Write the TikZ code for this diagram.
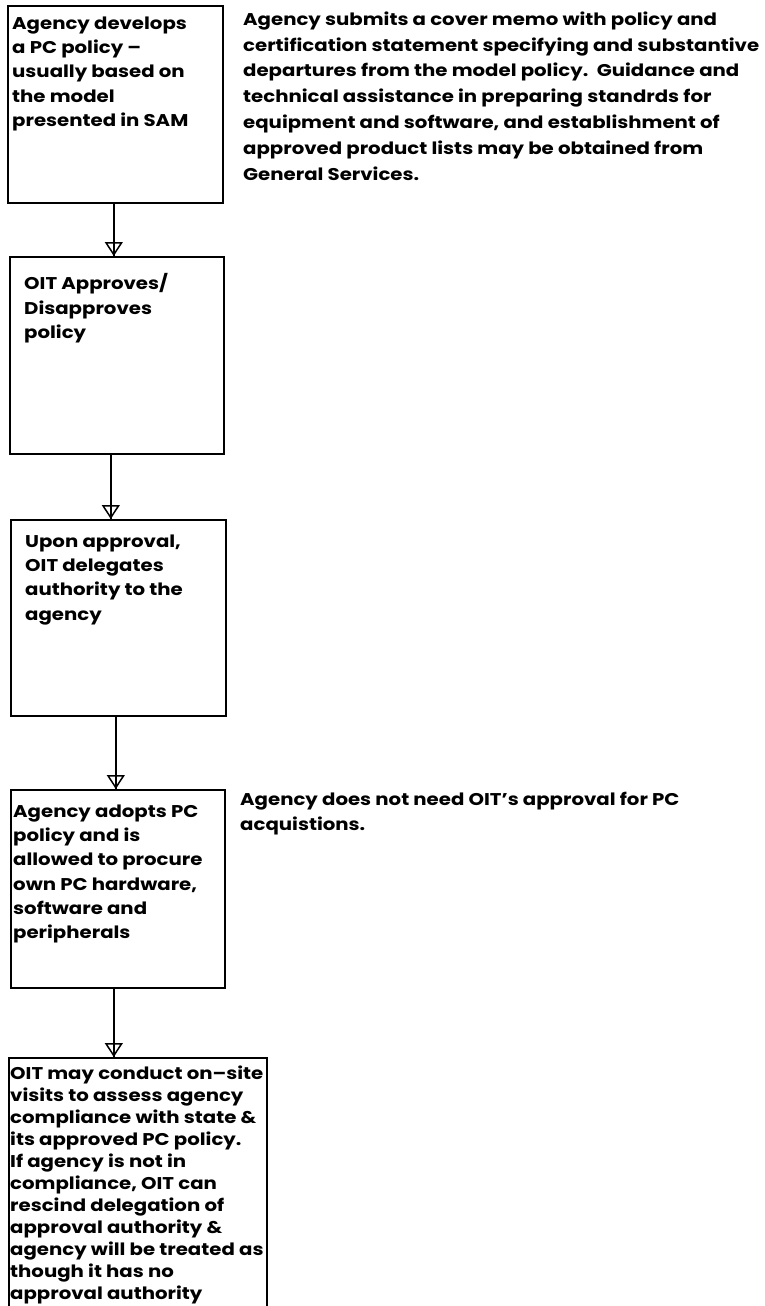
\documentclass[tikz,border=0pt]{standalone}
\usepackage{fontspec}
\setmainfont{Poppins}[FakeStretch=1.16]
\usetikzlibrary{arrows.meta}
\begin{document}
\begin{tikzpicture}[x=1pt,y=-1pt,
  box/.style={draw,line width=1.6pt,anchor=north west,inner sep=0pt,minimum width=215pt,minimum height=197pt},
  txt/.style={anchor=north west,align=left,inner sep=0pt,font=\fontsize{17}{24.3}\selectfont\bfseries},
  flowline/.style={draw,line width=1.5pt},
  flowhead/.style={draw,line width=1.5pt,-{Triangle[open,width=18pt,length=14pt,line width=1.5pt]}}]
\useasboundingbox[fill=white] (0,0) rectangle (764,1306);
% boxes
\node[box] (b1) at (7,5) {};
\node[box,minimum width=214pt] (b2) at (9,256) {};
\node[box,minimum height=196pt] (b3) at (10,519) {};
\node[box,minimum width=214pt,minimum height=198pt] (b4) at (10,789) {};
\node[box,minimum width=258pt,minimum height=280pt] (b5) at (8,1057) {};
% texts
\node[txt] (t1) at (12,16.5) {Agency develops\\a PC policy --\\usually based on\\the model\\presented in SAM};
\node[txt] (t2) at (24,273.5) {OIT Approves/\\Disapproves\\policy};
\node[txt] (t3) at (25,534.5) {Upon approval,\\OIT delegates\\authority to the\\agency};
\node[txt] (t4) at (13,804.5) {Agency adopts PC\\policy and is\\allowed to procure\\own PC hardware,\\software and\\peripherals};
\node[txt,font=\fontsize{17}{22}\selectfont\bfseries] (t5) at (10,1065.5) {OIT may conduct on--site\\visits to assess agency\\compliance with state \&\\its approved PC policy.\\If agency is not in\\compliance, OIT can\\rescind delegation of\\approval authority \&\\agency will be treated as\\though it has no\\approval authority};
\node[txt,font=\fontsize{17}{25.8}\selectfont\bfseries] (n1) at (243,11.5) {Agency submits a cover memo with policy and\\certification statement specifying and substantive\\departures from the model policy.\hspace{0.5em}Guidance and\\technical assistance in preparing standrds for\\equipment and software, and establishment of\\approved product lists may be obtained from\\General Services.};
\node[txt,font=\fontsize{17}{25}\selectfont\bfseries] (n2) at (240,791.5) {Agency does not need OIT's approval for PC\\acquistions.};
% connectors
\draw[flowline] ([xshift=-1.5pt]b1.south) -- ([xshift=-1.5pt]b1.south |- b2.north);
\draw[flowhead] ([xshift=-1.5pt]b1.south) -- ([xshift=-1.5pt]b1.south |- b2.north);
\draw[flowline] ([xshift=-6pt]b2.south) -- ([xshift=-6pt]b2.south |- b3.north);
\draw[flowhead] ([xshift=-6pt]b2.south) -- ([xshift=-6pt]b2.south |- b3.north);
\draw[flowline] ([xshift=-2.5pt]b3.south) -- ([xshift=-2.5pt]b3.south |- b4.north);
\draw[flowhead] ([xshift=-2.5pt]b3.south) -- ([xshift=-2.5pt]b3.south |- b4.north);
\draw[flowline] ([xshift=-4pt]b4.south) -- ([xshift=-4pt]b4.south |- b5.north);
\draw[flowhead] ([xshift=-4pt]b4.south) -- ([xshift=-4pt]b4.south |- b5.north);
\end{tikzpicture}
\end{document}
